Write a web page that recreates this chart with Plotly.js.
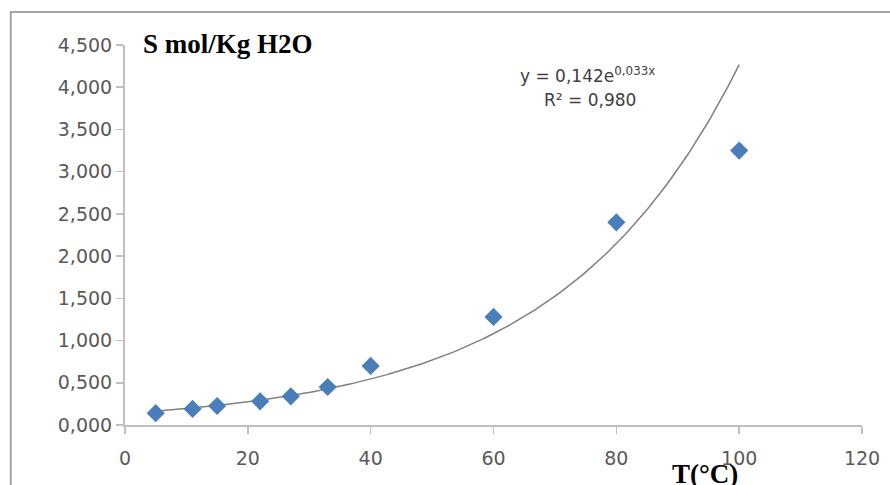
<!DOCTYPE html>
<html><head><meta charset="utf-8">
<script src="https://cdn.plot.ly/plotly-3.0.1.min.js"></script>
<style>html,body{margin:0;padding:0;background:#fff}#chart{width:890px;height:485px}</style>
</head><body><div id="chart"></div>
<script>
const temps = [5, 11, 15, 22, 27, 33, 40, 60, 80, 100];
const solubility = [0.14, 0.19, 0.225, 0.28, 0.34, 0.45, 0.70, 1.28, 2.40, 3.25];
const xTicks = [0, 20, 40, 60, 80, 100, 120];
const yTicks = [0, 0.5, 1, 1.5, 2, 2.5, 3, 3.5, 4, 4.5];

// Exponential trend line fitted (least squares on ln y) from the data, as Excel does
const n = temps.length;
const lny = solubility.map(Math.log);
const mx = temps.reduce((a,b)=>a+b,0)/n;
const my = lny.reduce((a,b)=>a+b,0)/n;
let sxx=0, sxy=0;
for (let i=0;i<n;i++){ sxx+=(temps[i]-mx)**2; sxy+=(temps[i]-mx)*(lny[i]-my); }
const b = sxy/sxx, a = Math.exp(my - b*mx);
const fitX = [], fitY = [];
const x0 = temps[0], x1 = temps[n-1];
for (let k=0;k<=200;k++){ const x = x0 + (x1-x0)*k/200; fitX.push(x); fitY.push(a*Math.exp(b*x)); }

const traces = [
  {x: fitX, y: fitY, mode:'lines', line:{color:'#808080', width:1.5}, hoverinfo:'skip'},
  {x: temps, y: solubility, mode:'markers', marker:{symbol:'diamond', size:14, color:'#4a7ebb'}}
];
const tickFont = {family:'DejaVu Sans, Verdana, sans-serif', size:19, color:'#595959'};
const layout = {
  width:890, height:485,
  margin:{l:125, r:28, t:45, b:60},
  paper_bgcolor:'#fff', plot_bgcolor:'#fff',
  showlegend:false,
  separators:',.',
  xaxis:{range:[0,120], tickvals:xTicks, ticktext:xTicks.map(String), showgrid:false, zeroline:false,
         showline:true, linecolor:'#c0c0c0', linewidth:2, ticks:'outside', ticklen:7, tickcolor:'#c0c0c0', tickwidth:1.5,
         ticklabelstandoff:8, tickfont:tickFont},
  yaxis:{range:[0,4.5], tickvals:yTicks, tickformat:'.3f', ticksuffix:'\u00a0\u00a0\u00a0', showgrid:false, zeroline:false,
         showline:true, linecolor:'#c0c0c0', linewidth:2, ticks:'outside', ticklen:7, tickcolor:'#c0c0c0', tickwidth:1.5,
         tickfont:tickFont},
  shapes:[
    {type:'path', xref:'paper', yref:'paper', path:'M -0.155 -0.3 L -0.155 1.087 L 1.2 1.087',
     line:{color:'#a6a6a6', width:2}}
  ],
  annotations:[
    {xref:'paper', yref:'paper', x:0.022, y:1.003, xanchor:'left', yanchor:'middle', showarrow:false,
     text:'<b>S mol/Kg H2O</b>', font:{family:'Liberation Serif, Times New Roman, serif', size:27, color:'#000'}},
    {xref:'paper', yref:'paper', x:0.627, y:0.92, xanchor:'center', yanchor:'middle', showarrow:false,
     text:'y = 0,142e<sup>0,033x</sup>', font:{family:'DejaVu Sans, Verdana, sans-serif', size:17, color:'#404040'}},
    {xref:'paper', yref:'paper', x:0.631, y:0.855, xanchor:'center', yanchor:'middle', showarrow:false,
     text:'R² = 0,980', font:{family:'DejaVu Sans, Verdana, sans-serif', size:17, color:'#404040'}},
    {xref:'paper', yref:'paper', x:0.787, y:-0.085, xanchor:'center', yanchor:'top', showarrow:false,
     text:'<b>T(°C)</b>', font:{family:'Liberation Serif, Times New Roman, serif', size:27, color:'#000'}}
  ]
};
Plotly.newPlot('chart', traces, layout, {displayModeBar:false, staticPlot:true});
</script></body></html>
